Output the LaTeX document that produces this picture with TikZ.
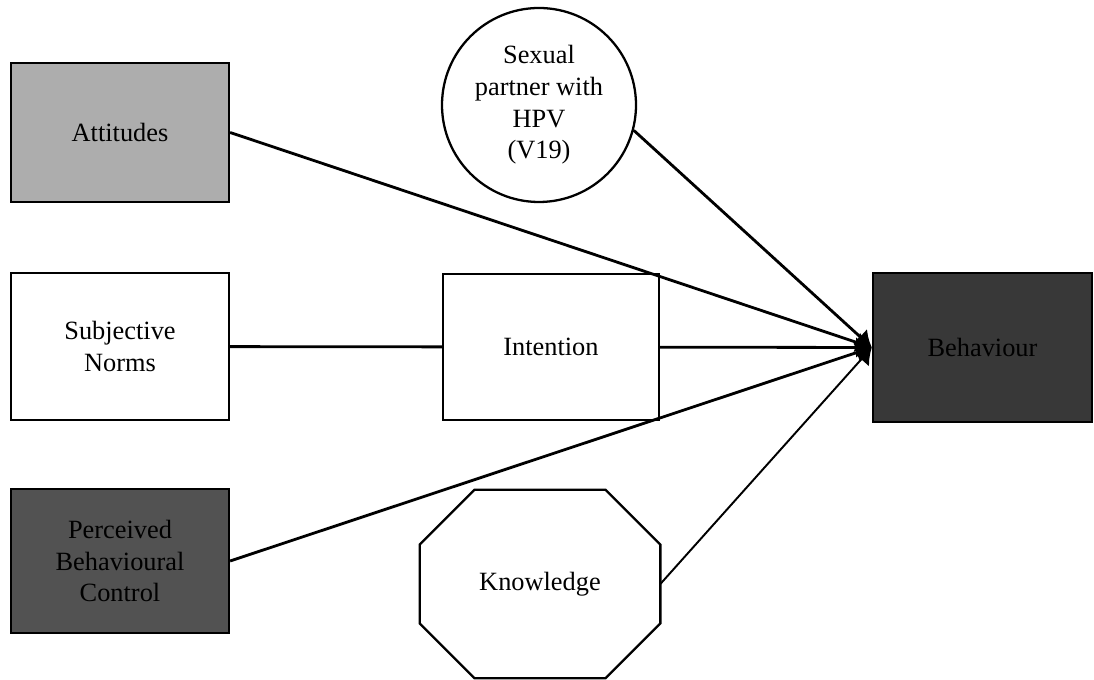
\documentclass[tikz,border=0pt]{standalone}
\usepackage{fontspec}
\setmainfont{Liberation Serif}
\usetikzlibrary{arrows.meta}

\begin{document}
\begin{tikzpicture}[>={Latex[length=9pt, width=12pt]}, font=\fontsize{15}{18}\selectfont,
	tpbbox/.style={draw, line width=1.3pt, align=center, minimum width=4.36cm, inner sep=0pt},
	tpbline/.style={line width=1.6pt}]

\useasboundingbox (0, 0) rectangle (21.88, 13.6);

\node[tpbbox, fill=black!32, minimum height=2.78cm] (att) at (2.4, 10.95) {Attitudes};

\node[tpbbox, minimum height=2.94cm] (sn) at (2.4, 6.67) {Subjective\\Norms};

\node[tpbbox, fill=black!68, minimum height=2.88cm] (pbc) at (2.4, 2.38) {Perceived\\Behavioural\\Control};

\node[tpbbox, minimum width=4.32cm, minimum height=2.92cm] (int) at (11.02, 6.66) {Intention};

\node[circle, draw, line width=1.3pt, align=center, minimum size=3.88cm, inner sep=0pt] (hpv) at (10.78, 11.5) {Sexual\\partner with\\HPV\\(V19)};

\node[minimum width=4.8cm, minimum height=3.76cm, inner sep=0pt] (know) at (10.8, 1.92) {Knowledge};

\draw[line width=1.3pt] ([xshift=1.1cm]know.north west) -- ([xshift=-1.1cm]know.north east) -- ([yshift=-1.1cm]know.north east) -- ([yshift=1.1cm]know.south east) -- ([xshift=-1.1cm]know.south east) -- ([xshift=1.1cm]know.south west) -- ([yshift=1.1cm]know.south west) -- ([yshift=-1.1cm]know.north west) -- cycle;

\node[tpbbox, fill=black!78, minimum width=4.38cm, minimum height=2.98cm] (beh) at (19.65, 6.65) {Behaviour};

\draw[tpbline] (sn) -- (int);

\draw[tpbline, ->] (att.east) -- (beh.west);

\draw[tpbline, ->] (hpv.-15) -- (beh.west);

\draw[tpbline, ->] (int) -- (beh.west);

\draw[tpbline, ->] (pbc.east) -- (beh.west);

\draw[line width=1.1pt, ->] (know.east) -- (beh.west);

\end{tikzpicture}
\end{document}
